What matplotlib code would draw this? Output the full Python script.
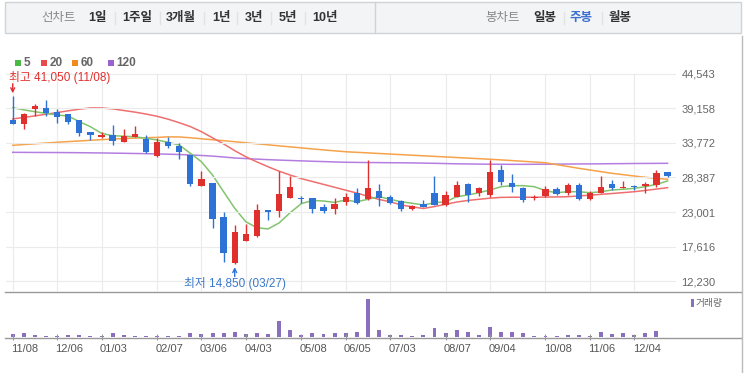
import numpy as np
import matplotlib
matplotlib.use("Agg")
import matplotlib.pyplot as plt
import matplotlib.transforms as mtransforms
from matplotlib.patches import Rectangle
from matplotlib.lines import Line2D

# weekly candles (one per week, first = 11/08)
opens = [37250, 36650, 39030, 39240, 38520, 38210, 37370, 35500, 34680, 34990,
         33940, 34720, 34320, 31770, 33940, 33280, 31870, 27100, 27560, 22270,
         15020, 18540, 19310, 23310, 23160, 25230, 25070, 25130, 23730, 23420,
         24600, 25910, 24980, 26270, 25380, 24710, 23470, 24250, 25910, 24090,
         25380, 27360, 25910, 25650, 29540, 27470, 26690, 25130, 25490, 26540,
         25910, 27200, 25030, 26000, 27360, 26690, 27000, 27050, 27200, 29180]
highs = [41050, 38400, 39770, 40430, 39030, 38210, 37370, 35500, 35410, 36540,
         35870, 36390, 34990, 34470, 34720, 33700, 31870, 29390, 27560, 23050,
         20980, 21130, 24200, 23310, 29460, 28610, 25500, 25130, 24200, 25130,
         25910, 26690, 31100, 27360, 25650, 24870, 24050, 24870, 28610, 26270,
         27870, 27560, 26940, 31100, 30320, 28870, 26940, 25650, 27050, 26940,
         27470, 27560, 26270, 28610, 27980, 27870, 27200, 27720, 29540, 29280]
lows = [36700, 35870, 37990, 37990, 36850, 36700, 34880, 34160, 34470, 33430,
        33940, 34720, 32140, 31610, 32920, 31270, 27100, 27100, 20470, 15250,
        14850, 18540, 19160, 21760, 22270, 25230, 24450, 22890, 22890, 22690,
        24090, 24200, 24870, 24000, 24250, 23200, 23360, 23730, 24050, 23980,
        25290, 24600, 25490, 25380, 27200, 26160, 24600, 24870, 25380, 25650,
        25650, 24870, 24870, 25910, 26430, 26690, 26430, 25910, 26940, 28400]
closes = [36750, 38250, 39500, 38360, 37830, 37060, 35250, 34940, 34990, 34100,
          34880, 35140, 32390, 33940, 33320, 32390, 27360, 28190, 21910, 16670,
          19940, 19580, 23310, 23050, 25760, 26850, 24990, 23420, 23200, 24250,
          25380, 24450, 26690, 25130, 24360, 23420, 23940, 23830, 24090, 25650,
          27200, 25650, 26690, 29180, 27620, 26940, 24870, 25380, 26540, 25760,
          27200, 25030, 26000, 26940, 26690, 26790, 26850, 27310, 29120, 28600]

# volume (relative)
volumes = [330, 370, 230, 130, 100, 230, 230, 130, 130, 370,
           230, 130, 130, 130, 130, 130, 370, 270, 370, 370,
           470, 270, 370, 270, 1630, 670, 230, 370, 270, 370,
           370, 470, 3800, 670, 230, 230, 130, 230, 870, 370,
           670, 470, 230, 970, 470, 470, 370, 130, 130, 130,
           230, 230, 130, 470, 270, 370, 230, 370, 570, 50]

# moving averages
ma5 = [39240, 38900, 38610, 38350, 38100, 37940, 37060, 36280, 35250, 34880,
       34800, 34720, 34470, 34210, 33850, 33430, 32140, 30830, 28760, 26160,
       23580, 21490, 20560, 20360, 21300, 22900, 24300, 24800, 24710, 24500,
       24870, 24600, 24980, 25400, 24980, 24600, 24360, 24090, 24450, 24600,
       25380, 25650, 26000, 26430, 26940, 27100, 27100, 26940, 26320, 26000,
       26160, 26160, 26000, 26160, 26430, 26540, 26690, 26940, 27310, 27830]
ma20 = [37480, 37720, 37960, 38220, 38480, 38750, 39000, 39200, 39200, 39050,
        38800, 38550, 38250, 37900, 37450, 36900, 36300, 35500, 34550, 33600,
        32550, 31600, 30800, 30050, 29350, 28750, 28200, 27750, 27300, 26850,
        26400, 25950, 25450, 24950, 24600, 24100, 23800, 23550, 23850, 24200,
        24550, 24800, 24980, 25150, 25280, 25300, 25300, 25300, 25320, 25350,
        25380, 25500, 25620, 25750, 25880, 26020, 26160, 26360, 26570, 26790]
ma60 = [33380, 33500, 33620, 33740, 33850, 33960, 34060, 34160, 34260, 34350,
        34430, 34500, 34560, 34610, 34700, 34680, 34560, 34400, 34250, 34100,
        33940, 33780, 33620, 33460, 33300, 33140, 32980, 32820, 32670, 32520,
        32380, 32290, 32200, 32110, 32020, 31930, 31840, 31750, 31660, 31570,
        31480, 31390, 31300, 31210, 31110, 31000, 30890, 30780, 30670, 30380,
        30090, 29800, 29540, 29280, 29020, 28810, 28600, 28400, 28240, 28090]
ma120 = [32290, 32280, 32270, 32265, 32255, 32245, 32230, 32210, 32190, 32165,
         32140, 32110, 32080, 32040, 32000, 31950, 31880, 31800, 31700, 31560,
         31410, 31320, 31230, 31150, 31080, 31020, 30960, 30900, 30850, 30790,
         30740, 30720, 30700, 30690, 30670, 30660, 30640, 30610, 30580, 30540,
         30500, 30480, 30460, 30440, 30430, 30420, 30420, 30430, 30440, 30450,
         30470, 30480, 30490, 30500, 30520, 30530, 30550, 30560, 30570, 30580]

tick_idx = [0, 4, 8, 13, 17, 21, 26, 30, 34, 39, 43, 48, 52, 56]
tick_labels = ["11/08", "12/06", "01/03", "02/07", "03/06", "04/03", "05/08",
               "06/05", "07/03", "08/07", "09/04", "10/08", "11/06", "12/04"]
price_levels = [12230, 17616, 23001, 28387, 33772, 39158, 44543]
hi_date, lo_date = "11/08", "03/27"

tabs_left = ["1일", "1주일", "3개월", "1년", "3년", "5년", "10년"]
tabs_right = ["일봉", "주봉", "월봉"]

W, H = 744, 373
RED, BLUE = "#e0302e", "#2f72d6"


def fx(x):
    return x / W


def fy(y):
    return 1 - y / H


def main():
    plt.rcParams['font.family'] = ['Liberation Sans', 'Noto Sans CJK KR']
    fig = plt.figure(figsize=(W / 100, H / 100), dpi=100)

    idx = np.arange(len(opens))
    o, h, l, c = map(np.array, (opens, highs, lows, closes))
    cols = np.where(c >= o, RED, BLUE)
    xl = (-0.604, 59.757)
    ylo, yhi = 10705, 45726

    # price panel
    ax = fig.add_axes([fx(6), fy(291), 670 / W, 225 / H])
    ax.set_xlim(*xl)
    ax.set_ylim(ylo, yhi)
    for s in ax.spines.values():
        s.set_visible(False)
    ax.set_xticks([])
    ax.yaxis.tick_right()
    ax.set_yticks(price_levels)
    ax.set_yticklabels([f"{v:,}" for v in price_levels])
    ax.tick_params(axis='y', length=0, pad=4, labelsize=8, labelcolor='#666')
    ax.grid(axis='y', color='#ebebeb', lw=0.8)
    ax.vlines(tick_idx, ylo, price_levels[-1], color='#ebebeb', lw=0.8, zorder=0)

    # moving averages
    ax.plot(idx, ma120, color='#b47ee0', lw=1.1, zorder=1)
    ax.plot(idx, ma60, color='#f5a24a', lw=1.1, zorder=1)
    ax.plot(idx, ma20, color='#ef6f6f', lw=1.1, zorder=1)
    ax.plot(idx, ma5, color='#82c46e', lw=1.1, zorder=1)

    # candles
    ax.vlines(idx, l, h, colors=cols, lw=1, zorder=2)
    ax.bar(idx, np.maximum(np.abs(c - o), 200), bottom=np.minimum(o, c),
           width=0.56, color=cols, lw=0, zorder=3)

    # high / low markers
    ih, il = int(np.argmax(h)), int(np.argmin(l))
    ax.annotate("", xy=(ih, h[ih]), xytext=(ih, h[ih] + 1900),
                arrowprops=dict(arrowstyle='->', color=RED, lw=1,
                                shrinkA=0, shrinkB=2, mutation_scale=7))
    ax.text(ih - 0.33, h[ih] + 2950, f"최고 {h[ih]:,} ({hi_date})", color=RED,
            fontsize=8.5, ha='left', va='center')
    ax.annotate("", xy=(il, l[il]), xytext=(il, l[il] - 1900),
                arrowprops=dict(arrowstyle='->', color=BLUE, lw=1,
                                shrinkA=0, shrinkB=2, mutation_scale=7))
    ax.text(il, l[il] - 2950, f"최저 {l[il]:,} ({lo_date})", color='#3a78c8',
            fontsize=8.5, ha='center', va='center')

    # volume panel
    ax2 = fig.add_axes([fx(6), fy(337), 670 / W, 44 / H])
    ax2.set_xlim(*xl)
    ax2.set_ylim(0, max(volumes) * 44 / 38)
    ax2.bar(idx, volumes, width=0.36, color='#8a6fbd', lw=0)
    ax2.axis('off')
    trans = mtransforms.blended_transform_factory(ax2.transData, fig.transFigure)
    ax2.vlines(tick_idx, fy(340), fy(334), transform=trans, color='#999',
               lw=0.8, clip_on=False)
    for t, lab in zip(tick_idx, tick_labels):
        ax2.text(t - 0.15, fy(349), lab, transform=trans, ha='left',
                 va='center', fontsize=8, color='#555')

    # frame lines
    for yy in (291.5, 337.5):
        fig.add_artist(Line2D([fx(5), fx(741)], [fy(yy), fy(yy)],
                              color='#999', lw=1))
    fig.add_artist(Line2D([fx(741.5), fx(741.5)], [fy(36), fy(373)],
                          color='#bbb', lw=1))

    # volume label
    fig.add_artist(Rectangle((fx(691), fy(307)), 3 / W, 8 / H,
                             color='#8a6fbd', lw=0))
    fig.text(fx(696), fy(303), "거래량", fontsize=7, color='#666',
             ha='left', va='center')

    # legend
    leg = [("5", '#4cb847', 15), ("20", '#e84a4a', 41),
           ("60", '#f28a1e', 72), ("120", '#9b62cf', 108)]
    for lab, col, x in leg:
        fig.add_artist(Rectangle((fx(x), fy(66)), 6 / W, 6 / H,
                                 color=col, lw=0))
        fig.text(fx(x + 8.5), fy(62.8), lab, fontsize=8.5, color='#666',
                 fontweight='bold', ha='left', va='center')

    # tab bar on top
    fig.add_artist(Rectangle((fx(5), fy(33)), 736 / W, 31 / H,
                             facecolor='#f3f4f6', edgecolor='#cfd3d8', lw=1))
    fig.add_artist(Line2D([fx(375), fx(375)], [fy(2), fy(33)],
                          color='#cfd3d8', lw=1))
    fig.text(fx(58.5), fy(17.5), "선차트", fontsize=9, color='#888',
             ha='center', va='center')
    left_x = [97.5, 137.5, 181, 221.5, 254, 288, 325]
    for lab, x in zip(tabs_left, left_x):
        fig.text(fx(x), fy(17.5), lab, fontsize=9, color='#333',
                 fontweight='bold', ha='center', va='center')
    for x in [115, 160, 204, 237, 271, 305]:
        fig.add_artist(Line2D([fx(x), fx(x)], [fy(12), fy(24)],
                              color='#e2e2e2', lw=1))
    fig.text(fx(503), fy(17.5), "봉차트", fontsize=9, color='#888',
             ha='center', va='center')
    right_x = [545, 581, 620]
    for lab, x in zip(tabs_right, right_x):
        col = '#3b6fd0' if lab == "주봉" else '#333'
        fig.text(fx(x), fy(17.5), lab, fontsize=9, color=col,
                 fontweight='bold', ha='center', va='center')
    for x in [564, 602]:
        fig.add_artist(Line2D([fx(x), fx(x)], [fy(12), fy(24)],
                              color='#e2e2e2', lw=1))

    fig.savefig("out.png", dpi=100, facecolor='white')


if __name__ == "__main__":
    main()
